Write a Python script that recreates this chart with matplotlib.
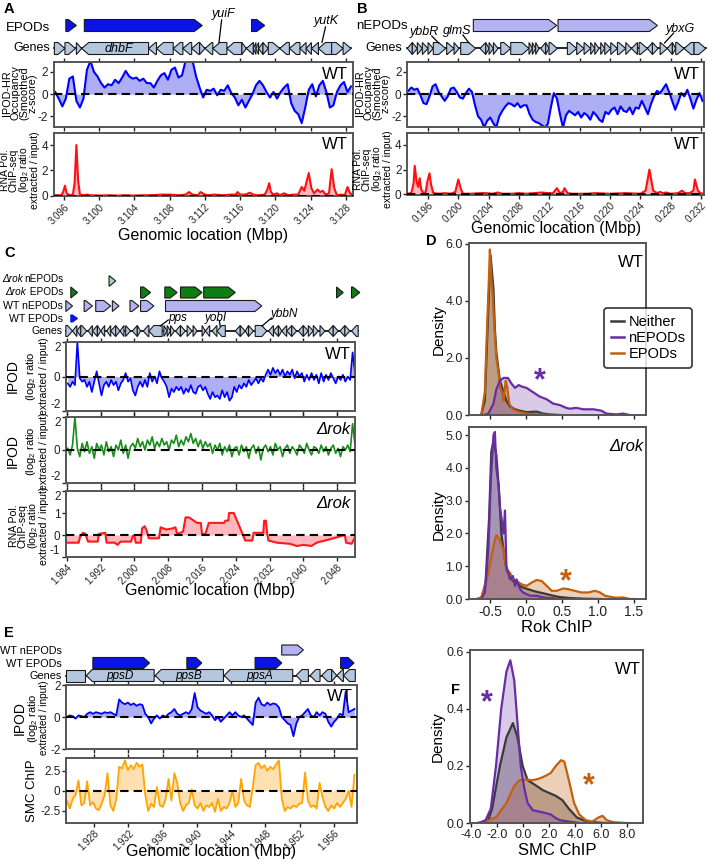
import numpy as np
import matplotlib
matplotlib.use("Agg")
import matplotlib.pyplot as plt
from matplotlib.patches import Polygon
from matplotlib.lines import Line2D

plt.rcParams['font.family'] = ['Liberation Sans', 'DejaVu Sans']
plt.rcParams['mathtext.fontset'] = 'custom'
plt.rcParams['mathtext.rm'] = 'Liberation Sans'
plt.rcParams['mathtext.it'] = 'Liberation Sans:italic'
plt.rcParams['axes.unicode_minus'] = False

W, H = 708, 863
fig = plt.figure(figsize=(W / 100, H / 100), dpi=100)

# ============================ DATA ============================
# ---- Panel A (Mbp) ----
A_ipod_x = np.linspace(3.0950, 3.1286, 85)
A_ipod = [0.2, -0.4, -1.1, -0.4, 1.4, 1.6, -0.6, -1.2, -0.4, 2.2,
          3.0, 2.0, 1.6, 1.0, 0.6, 0.9, 0.8, 1.3, 1.0, 1.5,
          2.1, 1.6, 1.4, 1.5, 1.2, 1.4, 1.0, 1.0, 0.6, 1.2,
          1.7, 1.9, 1.3, 2.2, 2.4, 1.5, 1.7, 3.0, 3.0, 3.0,
          1.6, 0.6, -0.3, 0.4, 0.3, 0.5, -0.1, 0.4, 0.3, 0.8,
          0.1, -0.3, -1.0, -0.5, -1.2, -0.6, 0.0, 0.8, 1.2, 0.8,
          0.2, -0.3, 0.2, -0.4, 0.2, 0.6, 0.9, -0.8, -1.5, -1.8,
          -2.6, -1.2, 0.4, 0.9, -0.2, 0.8, 1.2, 0.2, -1.2, -1.0,
          0.2, 0.8, 1.1, 0.2, 0.7]
A_rna = [(3.0948, 0.05), (3.0957, 0.05), (3.0959, 0.3), (3.0961, 0.8), (3.0963, 0.2),
         (3.0966, 0.05), (3.0970, 0.1), (3.0972, 1.0), (3.0974, 4.0), (3.0976, 1.2),
         (3.0978, 0.1), (3.0982, 0.05), (3.0986, 0.1), (3.0990, 0.05), (3.1000, 0.02),
         (3.1010, 0.05), (3.1020, 0.02), (3.1030, 0.05), (3.1040, 0.02), (3.1050, 0.05),
         (3.1060, 0.05), (3.1070, 0.1), (3.1080, 0.1), (3.1090, 0.05), (3.1098, 0.1),
         (3.1102, 0.3), (3.1106, 0.1), (3.1112, 0.05), (3.1115, 0.3), (3.1120, 0.1),
         (3.1125, 0.05), (3.1130, 0.1), (3.1140, 0.05), (3.1150, 0.1), (3.1155, 0.1),
         (3.1157, 0.3), (3.1160, 0.1), (3.1166, 0.1), (3.1171, 0.25), (3.1175, 0.1),
         (3.1180, 0.05), (3.1188, 0.1), (3.1191, 0.5), (3.1193, 1.0), (3.1195, 0.3),
         (3.1198, 0.1), (3.1202, 0.2), (3.1205, 0.05), (3.1210, 0.2), (3.1215, 0.05),
         (3.1220, 0.1), (3.1226, 0.1), (3.1230, 0.7), (3.1233, 0.4), (3.1238, 1.8),
         (3.1241, 0.6), (3.1244, 0.2), (3.1248, 0.5), (3.1251, 0.3), (3.1254, 0.4),
         (3.1257, 0.1), (3.1261, 0.2), (3.1264, 2.1), (3.1267, 0.6), (3.1270, 0.05),
         (3.1275, 0.1), (3.1279, 0.05), (3.1282, 0.7), (3.1285, 0.2), (3.1288, 0.1)]
A_genes_kb = [(3094.9, 3096.1, 1), (3096.1, 3097.3, 1), (3097.4, 3098.0, 1), (3098.0, 3105.6, -1),
              (3105.6, 3106.5, -1), (3106.5, 3108.4, -1), (3108.4, 3109.5, -1), (3109.5, 3110.5, -1),
              (3110.5, 3111.4, -1), (3111.4, 3112.0, 1), (3112.0, 3112.9, -1), (3112.9, 3114.5, -1),
              (3114.5, 3116.2, -1), (3116.2, 3116.7, 1), (3116.7, 3117.5, -1), (3117.5, 3117.8, -1),
              (3117.8, 3118.1, -1), (3118.1, 3118.6, -1), (3118.6, 3119.2, 1), (3119.2, 3120.5, 1),
              (3120.5, 3121.6, -1), (3121.6, 3122.8, -1), (3122.8, 3123.5, -1), (3123.5, 3124.1, -1),
              (3124.1, 3124.9, -1), (3124.9, 3126.4, -1), (3126.4, 3127.7, 1), (3127.7, 3128.6, 1)]
A_epods_kb = [(3096.2, 3097.4), (3098.3, 3111.7), (3117.3, 3118.8)]

# ---- Panel B (Mbp) ----
B_ipod_x = np.linspace(0.1934, 0.2322, 98)
B_ipod = [0.3, 0.6, 0.4, 0.5, -0.1, -0.8, -0.9, -0.2, 0.7, 0.9,
          0.2, -0.2, -0.6, -0.2, 0.5, 0.6, 0.2, -0.3, -0.4, 0.1,
          0.5, 0.2, -1.0, -2.0, -2.3, -3.0, -2.4, -2.1, -2.6, -3.0,
          -2.0, -1.5, -1.1, -0.8, -0.9, -1.1, -0.8, -1.2, -1.0, -1.0,
          -1.8, -2.3, -2.5, -2.6, -2.8, -3.0, -2.7, -1.2, 0.1, -0.4,
          -1.8, -3.0, -1.9, -1.5, -1.7, -1.9, -1.6, -2.1, -1.7, -1.9,
          -2.3, -1.6, -1.9, -2.3, -2.5, -1.6, -1.8, -1.4, -1.2, -1.8,
          -1.1, -1.5, -1.6, -1.2, -1.8, -1.2, -1.3, -0.6, -1.2, -1.8,
          -0.9, -0.2, 0.3, 0.1, 0.5, 0.9, 0.2, -0.6, -1.4, -0.7,
          0.1, -0.2, 0.4, -0.4, -1.3, -0.5, 0.1, -0.6]
B_rna = [(0.1932, 0.05), (0.1938, 0.1), (0.1941, 0.9), (0.19425, 2.3), (0.1945, 1.0), (0.1947, 0.6),
         (0.1949, 1.3), (0.1951, 0.4), (0.1954, 0.1), (0.1957, 0.2), (0.1959, 1.0), (0.1962, 1.7),
         (0.1964, 0.8), (0.1967, 0.1), (0.1975, 0.05), (0.1982, 0.1), (0.1990, 0.05), (0.1996, 0.2),
         (0.2000, 1.2), (0.2003, 0.5), (0.2006, 0.05), (0.2015, 0.05), (0.2030, 0.1), (0.2036, 0.1),
         (0.2045, 0.05), (0.2052, 0.15), (0.2058, 0.05), (0.2070, 0.05), (0.2080, 0.1), (0.2090, 0.05),
         (0.2100, 0.1), (0.2110, 0.15), (0.2118, 0.1), (0.2125, 0.1), (0.2130, 0.5), (0.2134, 0.1),
         (0.2138, 0.2), (0.2140, 0.5), (0.2144, 0.1), (0.2150, 0.05), (0.2170, 0.05), (0.2180, 0.1),
         (0.2200, 0.05), (0.2220, 0.1), (0.2240, 0.05), (0.2247, 0.3), (0.2252, 2.0), (0.2257, 0.3),
         (0.2262, 0.1), (0.2266, 0.2), (0.2270, 0.1), (0.2274, 0.15), (0.2280, 0.05), (0.2290, 0.1),
         (0.2295, 0.3), (0.2299, 0.1), (0.2305, 0.1), (0.2310, 0.3), (0.2312, 1.2), (0.2316, 0.3),
         (0.2320, 0.05), (0.2325, 0.1)]
B_genes_kb = [(193.27, 193.93, -1), (193.93, 194.59, 1), (194.59, 195.25, 1), (195.25, 196.00, 1),
              (196.00, 196.70, 1), (196.70, 198.33, 1), (198.46, 199.43, 1), (199.43, 200.09, 1),
              (200.31, 202.29, 1), (202.86, 203.61, -1), (203.61, 204.05, 1), (204.05, 204.62, 1),
              (204.62, 205.23, 1), (205.59, 206.91, 1), (206.91, 209.32, 1), (209.32, 209.76, 1),
              (209.76, 210.20, 1), (210.20, 210.64, 1), (210.86, 211.52, -1), (211.52, 211.96, 1),
              (211.96, 213.06, 1), (214.38, 215.61, 1), (215.61, 216.58, 1), (216.58, 217.46, 1),
              (217.46, 217.99, 1), (217.99, 218.56, 1), (218.78, 219.31, 1), (219.31, 220.10, 1),
              (220.10, 220.98, 1), (220.98, 222.08, 1), (222.08, 222.83, 1), (222.83, 223.62, -1),
              (223.84, 224.94, 1), (224.94, 225.60, -1), (225.60, 226.34, 1), (226.61, 227.57, 1),
              (227.57, 228.23, -1), (228.23, 228.67, 1), (228.67, 229.77, 1), (229.77, 231.09, -1),
              (231.09, 232.63, 1)]
B_nepods_kb = [(201.98, 212.97), (213.15, 226.26)]

# ---- Panel C (Mbp) ----
C_x = np.linspace(1.9842, 2.0522, 120)
C_wt = [-0.4, -0.6, -0.3, -0.5, 2.0, -0.1, -0.3, -0.2, -0.6, -0.3,
        -0.9, -0.3, 0.3, -0.4, -1.1, -0.5, -0.3, -0.6, -0.2, -0.5,
        -0.3, -0.8, -0.4, -0.2, 0.2, -0.3, -0.1, -0.8, -1.1, -0.6,
        -0.3, -0.6, -0.2, -0.6, 0.2, -0.3, 0.0, -0.4, 0.3, -0.1,
        -0.3, -0.6, -1.2, -0.7, -0.9, -0.6, -0.8, -0.6, -1.0, -0.7,
        -0.9, -0.5, -0.9, -1.0, -0.6, -0.5, -0.8, -0.6, -1.0, -1.3,
        -0.9, -1.2, -1.1, -1.3, -0.8, -1.2, -0.9, -1.4, -1.2, -0.6,
        -0.9, -0.5, -0.7, -0.4, -0.6, -0.2, -0.5, -0.3, -0.1, -0.4,
        -0.1, -0.3, 0.1, 0.4, 0.1, 0.5, 0.2, 0.4, 0.1, 0.4,
        0.0, 0.3, 0.1, 0.4, -0.1, 0.3, 0.0, 0.2, -0.3, 0.1,
        -0.2, 0.2, -0.2, 0.1, -0.4, 0.2, -0.3, 0.1, -0.2, 0.2,
        -0.1, -0.4, 0.0, -0.2, 0.1, -0.3, 0.0, -0.2, 1.4, 0.2]
C_drok = [0.1, -0.3, 0.3, 2.0, 0.1, -0.4, 0.4, -0.1, 0.5, -0.2,
          0.2, -0.5, 0.4, 0.0, 0.3, -0.3, 0.5, -0.1, 0.2, -0.4,
          0.3, 0.0, 0.6, -0.2, 0.3, -0.5, 0.2, 0.4, 0.1, 0.7,
          0.2, 0.5, 0.0, 0.6, 0.3, 0.8, 0.1, 0.5, 0.2, 0.7,
          0.3, 0.5, 0.0, 0.6, 0.4, 0.9, 0.2, 0.6, 0.3, 0.8,
          0.5, 1.0, 0.4, 0.7, 0.2, 0.6, 0.1, 0.5, 0.2, 0.4,
          -0.2, 0.3, 0.0, 0.4, -0.3, 0.2, -0.1, 0.3, -0.4, 0.1,
          0.2, -0.3, 0.3, -0.1, 0.2, -0.5, 0.1, 0.3, -0.2, 0.2,
          -0.6, 0.1, 0.3, -0.1, 0.2, -0.3, 0.4, 0.0, 0.2, -0.4,
          0.1, 0.3, -0.2, 0.2, 0.0, -0.3, 0.3, 0.1, -0.2, 0.4,
          0.0, -0.3, 0.2, 0.1, -0.2, 0.3, -0.1, 0.2, -0.3, 0.1,
          0.3, -0.2, 0.1, -0.4, 0.2, 0.0, 0.3, -0.1, 1.6, 0.3]
C_rna_kb = [(1983.8, -0.35), (1986.8, -0.35), (1987.1, -0.1), (1987.8, 0.1), (1988.4, 0.05), (1989.0, -0.3),
            (1989.3, -0.3), (1991.3, -0.3), (1991.6, 0.05), (1993.1, 0.1), (1993.4, -0.35), (1995.3, -0.35),
            (1996.0, -0.45), (1996.7, -0.3), (1999.2, -0.3), (1999.6, -0.05), (2000.0, -0.05), (2000.3, -0.35),
            (2001.5, -0.35), (2001.8, 0.3), (2002.4, 0.4), (2002.9, 0.2), (2003.4, -0.15), (2005.8, -0.15),
            (2006.2, 0.35), (2007.5, 0.25), (2009.0, 0.3), (2009.7, 0.35), (2010.1, 0.05), (2011.5, 0.15),
            (2012.1, 0.8), (2012.9, 0.8), (2014.8, 0.55), (2015.7, 0.55), (2016.0, 0.05), (2016.8, 0.05),
            (2017.6, 0.55), (2021.2, 0.55), (2021.5, 0.65), (2022.2, 0.65), (2022.4, 1.0), (2023.5, 1.0),
            (2025.7, 0.0), (2026.2, -0.25), (2027.9, -0.25), (2028.2, 0.1), (2030.5, 0.1), (2030.7, 0.65),
            (2031.1, 0.65), (2031.4, 0.1), (2031.7, -0.25), (2033.7, -0.35), (2036.8, -0.4), (2038.4, -0.5),
            (2040.0, -0.45), (2041.9, -0.5), (2043.1, -0.35), (2047.1, -0.15), (2049.8, 0.0), (2050.1, -0.35),
            (2051.4, -0.4), (2052.2, -0.1)]
C_genes_kb = [(1983.76, 1985.34, 1), (1985.34, 1986.36, -1), (1986.36, 1987.30, -1), (1987.30, 1988.72, 1),
              (1989.03, 1990.05, -1), (1990.05, 1991.23, -1), (1991.23, 1992.02, 1), (1992.02, 1992.96, -1),
              (1993.43, 1994.38, -1), (1994.38, 1995.56, -1), (1995.56, 1996.58, 1), (1996.58, 1997.52, -1),
              (1997.92, 1999.09, 1), (1999.49, 2000.67, -1), (2000.67, 2001.45, 1), (2002.08, 2003.42, -1),
              (2003.42, 2006.56, -1), (2006.96, 2007.74, 1), (2007.74, 2008.53, 1), (2008.53, 2009.47, 1),
              (2009.71, 2010.89, -1), (2010.89, 2012.07, 1), (2012.46, 2013.64, 1), (2013.87, 2014.82, 1),
              (2016.00, 2016.78, 1), (2016.78, 2017.81, -1), (2018.36, 2019.53, -1), (2019.53, 2021.50, -1),
              (2023.86, 2025.04, -1), (2025.04, 2026.22, 1), (2026.22, 2027.00, -1), (2027.00, 2028.18, 1),
              (2028.58, 2031.33, 1), (2031.72, 2032.90, -1), (2032.90, 2034.08, -1), (2034.08, 2034.86, 1),
              (2034.86, 2036.04, -1), (2036.04, 2037.22, -1), (2037.22, 2038.40, 1), (2038.80, 2039.97, -1),
              (2039.97, 2041.15, 1), (2041.15, 2042.33, 1), (2042.33, 2043.51, 1), (2043.91, 2045.09, 1),
              (2045.87, 2047.05, -1), (2047.05, 2048.23, 1), (2048.62, 2049.80, -1), (2049.80, 2050.98, 1),
              (2051.37, 2052.95, -1)]
C_drok_nepods_kb = [(1993.98, 1995.56)]
C_drok_epods_kb = [(1984.94, 1986.52), (2001.45, 2003.81), (2007.19, 2010.10), (2010.89, 2016.00),
                   (2016.39, 2023.86), (2047.84, 2049.41), (2051.37, 2053.34)]
C_wt_nepods_kb = [(1983.76, 1985.34), (1988.09, 1990.05), (1990.84, 1994.38), (1994.77, 1996.34),
                  (1998.94, 2001.06), (2001.45, 2004.60), (2007.35, 2030.15)]
C_wt_epods_kb = [(1984.94, 1986.52)]

# ---- Panel D (density of Rok ChIP) ----
D_wt_neither = [(-0.62, 0), (-0.57, 0.5), (-0.54, 2.5), (-0.51, 4.5), (-0.49, 5.6), (-0.47, 5.0), (-0.45, 4.4),
                (-0.43, 3.0), (-0.41, 2.2), (-0.36, 1.2), (-0.31, 0.8), (-0.27, 0.5), (-0.22, 0.3), (-0.15, 0.2),
                (-0.08, 0.15), (0.01, 0.1), (0.15, 0.12), (0.24, 0.05), (0.33, 0.02), (0.47, 0.0)]
D_wt_nepods = [(-0.59, 0), (-0.52, 0.05), (-0.45, 0.4), (-0.41, 0.9), (-0.36, 1.2), (-0.31, 1.3), (-0.25, 1.3),
               (-0.20, 1.1), (-0.15, 0.95), (-0.10, 1.05), (-0.06, 1.0), (0.01, 0.95), (0.10, 0.8), (0.19, 0.65),
               (0.29, 0.55), (0.38, 0.4), (0.47, 0.35), (0.56, 0.25), (0.61, 0.22), (0.70, 0.25), (0.80, 0.2),
               (0.94, 0.2), (1.05, 0.15), (1.12, 0.05), (1.26, 0.02), (1.35, 0.05), (1.44, 0.0)]
D_wt_epods = [(-0.62, 0), (-0.57, 0.8), (-0.54, 3.0), (-0.51, 5.0), (-0.50, 5.8), (-0.48, 4.8), (-0.46, 4.2),
              (-0.44, 3.2), (-0.41, 2.0), (-0.38, 1.5), (-0.36, 1.0), (-0.32, 0.7), (-0.31, 0.5), (-0.28, 1.2),
              (-0.26, 1.0), (-0.23, 0.4), (-0.18, 0.2), (-0.08, 0.1), (0.01, 0.05), (0.15, 0.02), (0.33, 0.0)]
D_rok_neither = [(-0.62, 0), (-0.56, 0.5), (-0.51, 2.5), (-0.48, 4.5), (-0.45, 4.8), (-0.41, 4.4), (-0.37, 3.2),
                 (-0.34, 2.0), (-0.31, 1.5), (-0.27, 0.9), (-0.22, 0.7), (-0.18, 0.55), (-0.13, 0.5), (-0.08, 0.4),
                 (-0.04, 0.35), (0.03, 0.3), (0.10, 0.25), (0.19, 0.2), (0.29, 0.15), (0.38, 0.1), (0.47, 0.06),
                 (0.61, 0.03), (0.80, 0.01), (1.03, 0.0)]
D_rok_nepods = [(-0.62, 0), (-0.57, 0.2), (-0.52, 1.5), (-0.49, 3.5), (-0.45, 5.0), (-0.43, 5.1), (-0.41, 4.0),
                (-0.38, 3.5), (-0.36, 2.8), (-0.34, 2.5), (-0.31, 2.0), (-0.29, 2.7), (-0.27, 1.0), (-0.22, 0.6),
                (-0.18, 0.7), (-0.15, 0.4), (-0.13, 0.6), (-0.08, 0.3), (-0.04, 0.2), (0.06, 0.1), (0.15, 0.1),
                (0.24, 0.05), (0.33, 0.03), (0.47, 0.0)]
D_rok_epods = [(-0.69, 0), (-0.62, 0.05), (-0.55, 0.5), (-0.48, 1.3), (-0.43, 1.8), (-0.41, 1.95), (-0.36, 1.8),
               (-0.31, 1.5), (-0.27, 0.9), (-0.22, 0.8), (-0.18, 0.6), (-0.13, 0.55), (-0.06, 0.45), (0.01, 0.4),
               (0.08, 0.5), (0.15, 0.58), (0.22, 0.55), (0.29, 0.4), (0.36, 0.25), (0.43, 0.25), (0.52, 0.32),
               (0.59, 0.3), (0.68, 0.25), (0.77, 0.2), (0.87, 0.2), (0.96, 0.25), (1.03, 0.2), (1.10, 0.1),
               (1.21, 0.05), (1.28, 0.04), (1.35, 0.05), (1.44, 0.0), (1.51, 0.0)]

# ---- Panel E (Mbp) ----
E_x = np.linspace(1.9248, 1.9584, 100)
E_ipod = [0.0, 0.1, 0.05, -0.1, 0.1, 0.05, 0.0, 0.2, 0.3, 0.2,
          0.3, 0.25, 0.2, 0.3, 0.25, 0.3, 0.2, 0.1, 1.1, 0.9,
          0.8, 0.9, 0.75, 0.85, 0.7, 0.8, 0.75, 0.2, 0.0, -0.4,
          -0.1, 0.1, -0.1, 0.1, 0.0, 0.2, 0.3, 0.5, 0.2, 0.1,
          0.2, 0.3, 0.2, 0.5, 1.5, 0.6, 0.4, 0.3, 0.2, 0.3,
          0.1, -0.2, 0.0, -0.3, -0.1, 0.1, 0.3, 0.1, 0.3, 0.1,
          0.0, 0.1, -0.1, -0.3, -0.5, 0.9, 1.2, 0.8, 0.7, 0.9,
          0.75, 0.85, 0.8, 0.6, 0.0, -0.2, -0.4, -0.5, -1.2, -0.4,
          0.0, 0.1, 0.3, 0.5, 0.1, 0.0, 0.3, 0.1, 0.3, 0.2,
          -0.3, -0.6, -0.3, -0.1, 0.2, 0.1, 1.6, 0.3, 0.4, 0.5]
E_smc = [-1.2, -2.2, -1.0, -0.5, 1.3, -1.8, -1.5, 1.2, -1.8, -1.4,
         -2.2, -2.4, -1.6, -0.5, 2.2, -1.8, -2.5, -1.0, 3.0, 2.8,
         3.8, 2.6, 3.2, 2.7, 3.5, 3.0, 3.3, -0.5, -2.5, -1.6,
         -2.0, 0.5, -1.8, -2.0, -1.0, 1.5, -1.2, 2.2, 1.0, -1.5,
         -2.5, -1.8, -1.5, 0.2, -1.8, -2.2, -1.5, -2.5, -1.8, -2.0,
         -1.5, -2.6, -1.0, -2.5, -2.0, -2.2, -1.5, 0.0, -2.0, -1.5,
         1.5, -1.2, -1.8, -2.0, 0.5, 3.2, 3.5, 2.8, 3.2, 2.5,
         3.0, 2.7, 3.3, 3.8, -1.0, -2.5, -2.0, -2.2, -1.8, -2.0,
         -1.6, -1.5, 2.3, -1.2, -2.0, -1.8, -2.2, 1.0, -0.8, -2.0,
         -2.5, -1.8, -2.2, -1.5, -2.0, -1.5, -1.0, 0.0, -2.0, 2.0]
E_genes_kb = [(1924.73, 1926.95, 0), (1927.07, 1935.00, -1), (1935.12, 1943.10, -1), (1943.18, 1951.19, -1),
              (1951.58, 1953.02, -1), (1953.21, 1954.38, -1), (1954.58, 1955.74, -1), (1955.74, 1956.33, 1),
              (1956.33, 1957.11, -1), (1957.11, 1958.50, -1)]
E_gene_names = [("ppsD", 1931.0), ("ppsB", 1939.0), ("ppsA", 1947.3)]
E_epods_kb = [(1927.84, 1934.46), (1938.82, 1940.57), (1946.79, 1949.91), (1956.79, 1958.35)]
E_nepods_kb = [(1949.91, 1952.44)]

# ---- Panel F (density of SMC ChIP) ----
F_neither = [(-3.4, 0), (-2.7, 0.01), (-2.4, 0.05), (-1.8, 0.2), (-1.3, 0.3), (-0.8, 0.35), (-0.45, 0.3),
             (-0.05, 0.2), (0.33, 0.15), (0.85, 0.135), (1.5, 0.115), (2.0, 0.105), (2.5, 0.095), (3.0, 0.08),
             (3.5, 0.05), (4.1, 0.02), (4.6, 0.01), (5.3, 0.003), (6.4, 0.0)]
F_nepods = [(-3.4, 0), (-2.9, 0.01), (-2.5, 0.05), (-2.1, 0.2), (-1.7, 0.4), (-1.3, 0.53), (-1.0, 0.57),
            (-0.7, 0.5), (-0.45, 0.35), (-0.2, 0.2), (0.08, 0.12), (0.33, 0.07), (0.72, 0.045), (1.2, 0.04),
            (1.7, 0.035), (2.1, 0.03), (2.4, 0.02), (2.8, 0.01), (3.5, 0.005), (4.3, 0.0)]
F_epods = [(-3.6, 0), (-2.9, 0.005), (-2.1, 0.02), (-1.3, 0.07), (-0.7, 0.13), (-0.3, 0.15), (0.2, 0.152),
           (0.72, 0.15), (1.2, 0.155), (1.7, 0.165), (2.1, 0.175), (2.5, 0.2), (2.9, 0.22), (3.15, 0.215),
           (3.5, 0.15), (3.9, 0.07), (4.3, 0.03), (4.8, 0.01), (5.3, 0.005), (5.8, 0.02), (6.1, 0.025),
           (6.4, 0.01), (6.9, 0.003), (7.9, 0.0)]

# ============================ STYLE ============================
C_GENE = '#b4c7df'
C_EPOD = '#0a14e6'
C_NEPOD = '#b3b3f2'
C_GREEN = '#0f7d14'
C_LGREEN = '#a8d8a8'
SPINE = '#555555'
COL_NEI, COL_NEP, COL_EP = '#3a3a3a', '#6a2ca2', '#c2600e'


def px_axes(x0, y0, x1, y1):
    return fig.add_axes([x0 / W, 1 - y1 / H, (x1 - x0) / W, (y1 - y0) / H])


def ftext(x, y, s, **kw):
    return fig.text(x / W, 1 - y / H, s, **kw)


def track_axes(x0, y0, x1, y1, xlim):
    ax = px_axes(x0, y0, x1, y1)
    ax.set_xlim(*xlim)
    ax.set_ylim(y1, y0)
    ax.axis('off')
    return ax


def feature(ax, start, end, strand, yc, h, fc, ec='#1a1a1a', lw=0.8, head_px=7):
    x0, x1 = ax.get_xlim()
    ppu = ax.get_position().width * W / (x1 - x0)
    hl = min(head_px / ppu, end - start)
    t, b = yc - h / 2, yc + h / 2
    if strand == 1:
        pts = [(start, t), (end - hl, t), (end, yc), (end - hl, b), (start, b)]
    elif strand == -1:
        pts = [(end, t), (start + hl, t), (start, yc), (start + hl, b), (end, b)]
    else:
        pts = [(start, t), (end, t), (end, b), (start, b)]
    ax.add_patch(Polygon(pts, closed=True, fc=fc, ec=ec, lw=lw, clip_on=False, joinstyle='miter'))


def genes_row(ax, genes_kb, yc, h=12, head_px=7):
    ax.plot([genes_kb[0][0] / 1000, genes_kb[-1][1] / 1000], [yc, yc], color='k', lw=1.2,
            clip_on=False, zorder=0)
    for s, e, st in genes_kb:
        feature(ax, s / 1000, e / 1000, st, yc, h, C_GENE, head_px=head_px)


def pods_row(ax, pods_kb, yc, h, fc, head_px=8, ec='#1a1a1a'):
    for s, e in pods_kb:
        feature(ax, s / 1000, e / 1000, 1, yc, h, fc, head_px=head_px, ec=ec)


def gene_label(ax, name, xt, yt, x0, y0, x1, y1, fs=9):
    ax.text(xt / 1000, yt, name, style='italic', fontsize=fs, ha='center', va='center', clip_on=False)
    if x0 is not None:
        ax.plot([x0 / 1000, x1 / 1000], [y0, y1], color='k', lw=0.9, clip_on=False)


def style_ax(ax, xlim, ylim, yticks, yticklabels, xticks, show_xlabels=False, top=True,
             xfmt='{:.3f}', rot=45, xfs=7):
    ax.set_xlim(*xlim)
    ax.set_ylim(*ylim)
    ax.set_yticks(yticks)
    ax.set_yticklabels(yticklabels)
    ax.set_xticks(xticks)
    for s in ax.spines.values():
        s.set_color(SPINE)
        s.set_linewidth(1.4)
    ax.tick_params(axis='both', direction='out', length=3, width=1, colors='#222222', labelsize=8.5, pad=1)
    ax.tick_params(axis='x', top=top, bottom=True, labelbottom=show_xlabels)
    if show_xlabels:
        ax.set_xticklabels([xfmt.format(v) for v in xticks], rotation=rot, ha='right',
                           rotation_mode='anchor', fontsize=xfs)


def squeeze_edge_labels(ax):
    labs = ax.get_yticklabels()
    labs[0].set_va('bottom')
    labs[-1].set_va('top')


def trace(ax, x, y, lc, fc, lw=1.5):
    if fc is not None:
        ax.fill_between(x, 0, y, color=fc, lw=0, zorder=1)
    ax.plot(x, y, color=lc, lw=lw, zorder=2)
    ax.axhline(0, color='k', lw=1.5, ls=(0, (4, 2.5)), zorder=3)


def ylab(x, y, s, fs=8, ls=0.82):
    ftext(x, y, s, rotation=90, ha='center', va='center', fontsize=fs, linespacing=ls, multialignment='center')


def ylab_lines(xs, y, lines, sizes):
    for xx, s, fs in zip(xs, lines, sizes):
        ftext(xx, y, s, rotation=90, ha='center', va='center', fontsize=fs)


def inner(ax, s, italic=False, fs=12):
    ax.text(0.985, 0.93, s, transform=ax.transAxes, ha='right', va='top', fontsize=fs,
            style='italic' if italic else 'normal', zorder=5)


def label_pair(x_right, y, ital, normal, fs):
    t = ftext(x_right, y, normal, ha='right', va='center', fontsize=fs)
    bb = t.get_window_extent(renderer=fig.canvas.get_renderer())
    ftext(x_right - bb.width - 1, y, ital, ha='right', va='center', fontsize=fs, style='italic')


RNA_LAB = 'RNA Pol.\nChIP-seq\n(log$_2$ ratio\nextracted / input)'
IPODHR_LAB = 'IPOD-HR\nOccupancy\n(Smoothed\nz-score)'
IPOD_LINES = ['IPOD', '(log$_2$ ratio', 'extracted / input)']
IPOD_SIZES = [10, 8, 7.5]

# ============================ PANEL A ============================
A_xlim = (3.0948, 3.12877)
A_ticks = [3.096, 3.100, 3.104, 3.108, 3.112, 3.116, 3.120, 3.124, 3.128]
ftext(4, 9, 'A', fontsize=10.5, fontweight='bold', va='center')
tA = track_axes(53.5, 6, 352.5, 58, A_xlim)
pods_row(tA, A_epods_kb, 25.5, 12, C_EPOD)
genes_row(tA, A_genes_kb, 48.5, 12)
tA.text(3.1022, 48.5, 'dhbF', style='italic', fontsize=9, ha='center', va='center')
gene_label(tA, 'yuiF', 3114.1, 14, 3113.9, 20, 3113.6, 42.5)
gene_label(tA, 'yutK', 3125.8, 21, 3125.7, 27, 3125.3, 42.5)
ftext(50, 28, 'EPODs', fontsize=9.5, ha='right', va='center')
ftext(50, 48, 'Genes', fontsize=9, ha='right', va='center')

aA1 = px_axes(53.5, 62, 352.5, 127.5)
trace(aA1, A_ipod_x, A_ipod, '#0000ff', '#aeaef4')
style_ax(aA1, A_xlim, (-3.0, 2.9), [-2, 0, 2], ['-2', '0', '2'], A_ticks)
inner(aA1, 'WT')
ylab(20, 93, IPODHR_LAB, fs=7.8)

aA2 = px_axes(53.5, 133, 352.5, 196.5)
ax_, ay_ = zip(*A_rna)
trace(aA2, ax_, ay_, '#ff1010', '#ffb8c0')
style_ax(aA2, A_xlim, (-0.05, 4.95), [0, 2, 4], ['0', '2', '4'], A_ticks, show_xlabels=True, top=False)
inner(aA2, 'WT')
ylab(20, 170, RNA_LAB, fs=7.5)
ftext(203, 235, 'Genomic location (Mbp)', fontsize=11.5, ha='center', va='center')

# ============================ PANEL B ============================
B_xlim = (0.19323, 0.2324)
B_ticks = [0.196, 0.200, 0.204, 0.208, 0.212, 0.216, 0.220, 0.224, 0.228, 0.232]
ftext(357, 9, 'B', fontsize=10.5, fontweight='bold', va='center')
tB = track_axes(407, 6, 704, 58, B_xlim)
pods_row(tB, B_nepods_kb, 25.5, 12, C_NEPOD)
genes_row(tB, B_genes_kb, 48.5, 12)
gene_label(tB, 'ybbR', 195.5, 32, 196.5, 36, 197.4, 43)
gene_label(tB, 'glmS', 199.9, 31, 200.6, 35, 201.4, 43)
gene_label(tB, 'ybxG', 229.3, 29, 228.4, 33, 227.2, 43)
ftext(408, 26, 'nEPODs', fontsize=9.5, ha='right', va='center')
ftext(402, 48, 'Genes', fontsize=9, ha='right', va='center')

aB1 = px_axes(407, 62, 704, 127.5)
trace(aB1, B_ipod_x, B_ipod, '#0000ff', '#aeaef4')
style_ax(aB1, B_xlim, (-3.0, 2.9), [-2, 0, 2], ['-2', '0', '2'], B_ticks)
inner(aB1, 'WT')
ylab(373, 93, IPODHR_LAB, fs=7.8)

aB2 = px_axes(407, 133, 704, 195)
bx_, by_ = zip(*B_rna)
trace(aB2, bx_, by_, '#ff1010', '#ffb8c0')
style_ax(aB2, B_xlim, (-0.05, 4.95), [0, 2, 4], ['0', '2', '4'], B_ticks, show_xlabels=True, top=False)
inner(aB2, 'WT')
ylab(373, 169, RNA_LAB, fs=7.5)
ftext(556, 229, 'Genomic location (Mbp)', fontsize=11.5, ha='center', va='center')

# ============================ PANEL C ============================
C_xlim = (1.9838, 2.0522)
C_ticks = [1.984, 1.992, 2.000, 2.008, 2.016, 2.024, 2.032, 2.040, 2.048]
ftext(4, 253, 'C', fontsize=10.5, fontweight='bold', va='center')
tC = track_axes(66, 268, 355, 340, C_xlim)
pods_row(tC, C_drok_nepods_kb, 281, 10, C_LGREEN, head_px=6)
pods_row(tC, C_drok_epods_kb, 292.5, 11, C_GREEN, head_px=7)
pods_row(tC, C_wt_nepods_kb, 306, 11, C_NEPOD, head_px=7)
pods_row(tC, C_wt_epods_kb, 318.5, 7, C_EPOD, head_px=5, ec=C_EPOD)
genes_row(tC, C_genes_kb, 331, 11, head_px=5)
gene_label(tC, 'pps', 2010.2, 318, 2008.0, 320, 2006.1, 326, fs=8.5)
gene_label(tC, 'yobI', 2019.3, 318, 2020.1, 321, 2020.3, 326, fs=8.5)
gene_label(tC, 'ybbN', 2035.4, 314, 2032.4, 318, 2030.2, 326, fs=8.5)
label_pair(63, 279, 'Δrok', 'nEPODs', 7.2)
label_pair(63, 292, 'Δrok', ' EPODs', 7.2)
ftext(63, 306, 'WT nEPODs', fontsize=7.6, ha='right', va='center')
ftext(63, 319, 'WT EPODs', fontsize=7.6, ha='right', va='center')
ftext(63, 331, 'Genes', fontsize=7.6, ha='right', va='center')

aC1 = px_axes(66, 342, 355, 411)
trace(aC1, C_x, C_wt, '#0000ff', '#aeaef4', lw=1.2)
style_ax(aC1, C_xlim, (-2, 2), [-2, 0, 2], ['-2', '0', '2'], C_ticks)
squeeze_edge_labels(aC1)
inner(aC1, 'WT')
ylab_lines([13, 31, 44], 376, IPOD_LINES, IPOD_SIZES)

aC2 = px_axes(66, 417, 355, 483)
trace(aC2, C_x, C_drok, '#1a8c1a', None, lw=1.2)
style_ax(aC2, C_xlim, (-2, 2), [-2, 0, 2], ['-2', '0', '2'], C_ticks)
squeeze_edge_labels(aC2)
inner(aC2, 'Δrok', italic=True)
ylab_lines([13, 31, 44], 451, IPOD_LINES, IPOD_SIZES)

aC3 = px_axes(66, 491, 355, 557)
cx_, cy_ = zip(*C_rna_kb)
trace(aC3, np.array(cx_) / 1000, cy_, '#ff1a1a', '#ffb8c0')
style_ax(aC3, C_xlim, (-1, 2), [-1, 0, 1, 2], ['-1', '0', '1', '2'], C_ticks, show_xlabels=True)
squeeze_edge_labels(aC3)
inner(aC3, 'Δrok', italic=True)
ylab(29, 526, RNA_LAB, fs=7.6)
ftext(210, 590, 'Genomic location (Mbp)', fontsize=11.5, ha='center', va='center')

# ============================ PANEL D ============================
D_xlim = (-0.79, 1.67)
D_xt = [-0.5, 0.0, 0.5, 1.0, 1.5]
ftext(426, 241, 'D', fontsize=10.5, fontweight='bold', va='center')


def dens(ax, pairs, col, alpha):
    x, y = zip(*pairs)
    ax.fill_between(x, 0, y, color=col, alpha=alpha, lw=0)
    ax.plot(x, y, color=col, lw=1.6)


def style_dens(ax, xlim, ylim, yt, xt, show_x, xfmt='{:.1f}'):
    ax.set_xlim(*xlim)
    ax.set_ylim(*ylim)
    ax.set_yticks(yt)
    ax.set_yticklabels(['{:.1f}'.format(v) for v in yt])
    ax.set_xticks(xt)
    ax.set_xticklabels([xfmt.format(v) for v in xt])
    for s in ax.spines.values():
        s.set_color(SPINE)
        s.set_linewidth(1.4)
    ax.tick_params(axis='both', direction='out', length=3, width=1, colors='#222222', labelsize=9, pad=1.5)
    ax.tick_params(axis='x', labelbottom=show_x, labelsize=10)


aD1 = px_axes(469, 243, 646, 415)
dens(aD1, D_wt_neither, COL_NEI, 0.35)
dens(aD1, D_wt_epods, COL_EP, 0.3)
dens(aD1, D_wt_nepods, COL_NEP, 0.25)
style_dens(aD1, D_xlim, (0, 6.03), [0, 2, 4, 6], D_xt, False)
inner(aD1, 'WT')
aD1.text(0.19, 1.2, '*', color=COL_NEP, fontsize=22, fontweight='bold', ha='center', va='center')
ftext(439, 330, 'Density', fontsize=11, rotation=90, ha='center', va='center')

aD2 = px_axes(469, 427, 646, 599)
dens(aD2, D_rok_neither, COL_NEI, 0.35)
dens(aD2, D_rok_epods, COL_EP, 0.3)
dens(aD2, D_rok_nepods, COL_NEP, 0.25)
style_dens(aD2, D_xlim, (0, 5.25), [0, 1, 2, 3, 4, 5], D_xt, True)
inner(aD2, 'Δrok', italic=True)
aD2.text(0.55, 0.52, '*', color=COL_EP, fontsize=22, fontweight='bold', ha='center', va='center')
ftext(439, 515, 'Density', fontsize=11, rotation=90, ha='center', va='center')
ftext(557, 628, 'Rok ChIP', fontsize=12, ha='center', va='center')

handles = [Line2D([], [], color=COL_NEI, lw=1.8), Line2D([], [], color=COL_NEP, lw=1.8),
           Line2D([], [], color=COL_EP, lw=1.8)]
leg = fig.legend(handles, ['Neither', 'nEPODs', 'EPODs'], loc='upper left',
                 bbox_to_anchor=(597 / W, 1 - 301 / H), fontsize=10.5, frameon=True, fancybox=True,
                 handlelength=0.9, handletextpad=0.3, labelspacing=0.15, borderpad=0.45)
leg.get_frame().set_edgecolor('black')
leg.get_frame().set_linewidth(1.2)

# ============================ PANEL E ============================
E_xlim = (1.9247, 1.9587)
E_ticks = [1.928, 1.932, 1.936, 1.940, 1.944, 1.948, 1.952, 1.956]
ftext(4, 633, 'E', fontsize=10.5, fontweight='bold', va='center')
tE = track_axes(66, 640, 357, 684, E_xlim)
pods_row(tE, E_nepods_kb, 650, 10, C_NEPOD, head_px=6)
pods_row(tE, E_epods_kb, 663, 11, C_EPOD, head_px=6)
genes_row(tE, E_genes_kb, 675.5, 12, head_px=6)
for nm, xp in E_gene_names:
    tE.text(xp / 1000, 675.5, nm, style='italic', fontsize=8.5, ha='center', va='center')
ftext(62, 651, 'WT nEPODs', fontsize=7.8, ha='right', va='center')
ftext(62, 664, 'WT EPODs', fontsize=7.8, ha='right', va='center')
ftext(62, 675.5, 'Genes', fontsize=7.8, ha='right', va='center')

aE1 = px_axes(66, 685, 357, 749)
trace(aE1, E_x, E_ipod, '#0000ff', '#aeaef4', lw=1.3)
style_ax(aE1, E_xlim, (-2, 2), [-2, 0, 2], ['-2', '0', '2'], E_ticks)
inner(aE1, 'WT')
ylab_lines([20, 33, 44], 718, IPOD_LINES, [10, 8, 7.2])

aE2 = px_axes(66, 758, 357, 823)
trace(aE2, E_x, E_smc, '#ffa500', '#ffe0b0', lw=1.3)
style_ax(aE2, E_xlim, (-4.0, 4.1), [-2.5, 0, 2.5], ['-2.5', '0', '2.5'], E_ticks, show_xlabels=True)
ylab(32, 791, 'SMC ChIP', fs=9.5)
ftext(211, 851, 'Genomic location (Mbp)', fontsize=11.5, ha='center', va='center')

# ============================ PANEL F ============================
ftext(456, 690, 'F', fontsize=10.5, fontweight='bold', va='center', ha='center')
aF = px_axes(470, 650, 643, 823)
dens(aF, F_neither, COL_NEI, 0.35)
dens(aF, F_epods, COL_EP, 0.3)
dens(aF, F_nepods, COL_NEP, 0.25)
style_dens(aF, (-4.1, 9.2), (0, 0.606), [0.0, 0.2, 0.4, 0.6], [-4, -2, 0, 2, 4, 6, 8], True)
aF.tick_params(axis='x', labelsize=9)
inner(aF, 'WT')
aF.text(-2.8, 0.42, '*', color=COL_NEP, fontsize=22, fontweight='bold', ha='center', va='center')
aF.text(5.0, 0.13, '*', color=COL_EP, fontsize=22, fontweight='bold', ha='center', va='center')
ftext(438, 737, 'Density', fontsize=11, rotation=90, ha='center', va='center')
ftext(557, 850, 'SMC ChIP', fontsize=12, ha='center', va='center')

fig.savefig('out.png', dpi=100)
